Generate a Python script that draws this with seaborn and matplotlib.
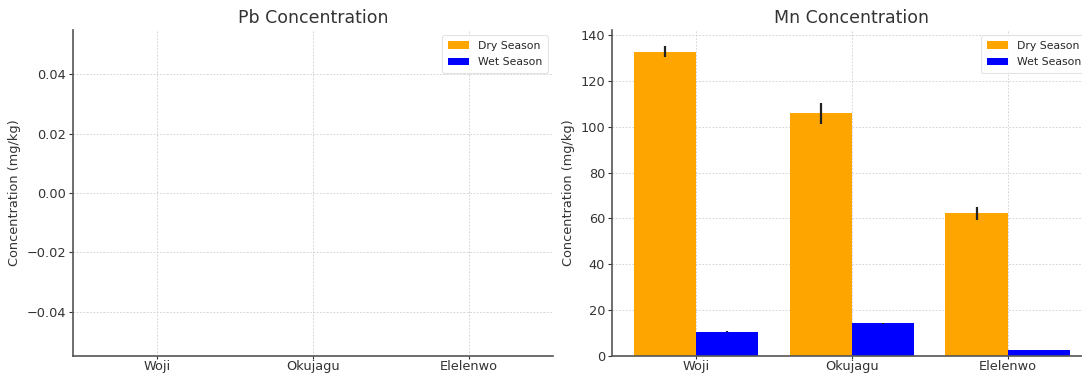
import numpy as np
import pandas as pd
import matplotlib
matplotlib.use("Agg")
import matplotlib.pyplot as plt
import seaborn as sns

# Sampling sites and seasons
sites = ["Woji", "Okujagu", "Elelenwo"]
seasons = ["Dry Season", "Wet Season"]

# Lead (mg/kg) - below detection at every site
pb_dry = [0.0, 0.0, 0.0]
pb_wet = [0.0, 0.0, 0.0]
pb_dry_err = [0.0, 0.0, 0.0]
pb_wet_err = [0.0, 0.0, 0.0]

# Manganese (mg/kg)
mn_dry = [132.8, 105.8, 62.2]
mn_wet = [10.6, 14.2, 2.7]
mn_dry_err = [2.5, 4.6, 2.8]
mn_wet_err = [0.3, 0.3, 0.1]

palette = {"Dry Season": "orange", "Wet Season": "blue"}

sns.set_theme(style="white")
plt.rcParams["font.family"] = ["DejaVu Sans"]

fig = plt.figure(figsize=(10.82, 3.75), dpi=100)
ax_pb = fig.add_axes([0.0675, 0.0507, 0.4436, 0.8693])
ax_mn = fig.add_axes([0.5656, 0.0507, 0.4436, 0.8693])


def long_table(dry, wet):
    return pd.DataFrame({
        "Site": sites * 2,
        "Season": [seasons[0]] * len(sites) + [seasons[1]] * len(sites),
        "Concentration": list(dry) + list(wet),
    })


def draw_panel(ax, title, dry, wet, dry_err, wet_err):
    df = long_table(dry, wet)
    sns.barplot(data=df, x="Site", y="Concentration", hue="Season",
                hue_order=seasons, order=sites, palette=palette,
                errorbar=None, width=0.8, saturation=1, linewidth=0,
                ax=ax)
    for container, errs in zip(ax.containers, [dry_err, wet_err]):
        xs = [b.get_x() + b.get_width() / 2 for b in container]
        hs = [b.get_height() for b in container]
        ax.errorbar(xs, hs, yerr=errs, fmt="none", ecolor="#222222",
                    elinewidth=1.6, capsize=0, zorder=5)
    ax.set_title(title, fontsize=12.5, color="#333333", pad=5)
    ax.set_xlabel("")
    ax.set_ylabel("Concentration (mg/kg)", fontsize=9.3, color="#333333",
                  labelpad=4)
    ax.set_xlim(-0.54, 2.54)
    ax.grid(True, linestyle=(0, (2, 2)), linewidth=0.6, color="#cccccc")
    ax.set_axisbelow(True)
    for side in ("top", "right"):
        ax.spines[side].set_visible(False)
    for side in ("left", "bottom"):
        ax.spines[side].set_color("#555555")
        ax.spines[side].set_linewidth(1.2)
    ax.tick_params(axis="both", labelsize=9.3, colors="#333333",
                   length=3, width=0.8, direction="out",
                   bottom=True, left=True)
    ax.tick_params(axis="x", length=2.5, pad=0.5)
    ax.tick_params(axis="y", pad=2)
    leg = ax.legend(loc="upper right", fontsize=7.8, frameon=True,
                    handlelength=2.0, borderpad=0.5, labelspacing=0.6)
    leg.get_frame().set_edgecolor("#dddddd")
    leg.get_frame().set_linewidth(0.8)


draw_panel(ax_pb, "Pb Concentration", pb_dry, pb_wet, pb_dry_err, pb_wet_err)
ax_pb.set_ylim(-0.055, 0.055)
ax_pb.set_yticks([-0.04, -0.02, 0.0, 0.02, 0.04])

draw_panel(ax_mn, "Mn Concentration", mn_dry, mn_wet, mn_dry_err, mn_wet_err)
ax_mn.set_ylim(0, 142.2)
ax_mn.set_yticks([0, 20, 40, 60, 80, 100, 120, 140])

fig.savefig("out.png", dpi=100)
